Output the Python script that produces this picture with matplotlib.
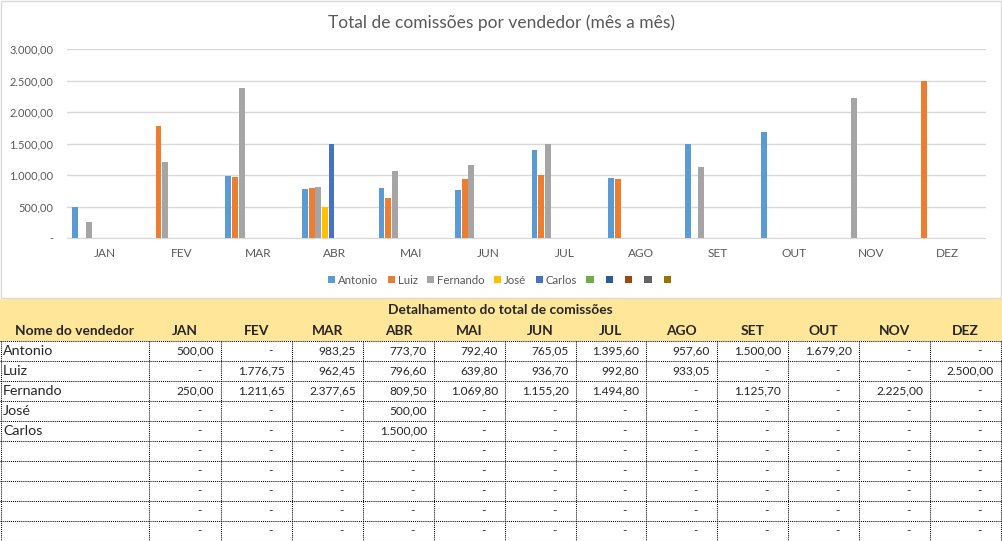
import numpy as np
import matplotlib.pyplot as plt
from matplotlib.patches import Rectangle

plt.rcParams['font.family'] = ['Lato', 'DejaVu Sans']

meses = ['JAN', 'FEV', 'MAR', 'ABR', 'MAI', 'JUN', 'JUL', 'AGO', 'SET', 'OUT', 'NOV', 'DEZ']
vendedores = ['Antonio', 'Luiz', 'Fernando', 'José', 'Carlos', '', '', '', '', '']

antonio = [500.00, 0, 983.25, 773.70, 792.40, 765.05, 1395.60, 957.60, 1500.00, 1679.20, 0, 0]
luiz = [0, 1776.75, 962.45, 796.60, 639.80, 936.70, 992.80, 933.05, 0, 0, 0, 2500.00]
fernando = [250.00, 1211.65, 2377.65, 809.50, 1069.80, 1155.20, 1494.80, 0, 1125.70, 0, 2225.00, 0]
jose = [0, 0, 0, 500.00, 0, 0, 0, 0, 0, 0, 0, 0]
carlos = [0, 0, 0, 1500.00, 0, 0, 0, 0, 0, 0, 0, 0]
vazio = [0] * 12
series = [antonio, luiz, fernando, jose, carlos, vazio, vazio, vazio, vazio, vazio]

cores = ['#5B9BD5', '#ED7D31', '#A5A5A5', '#FFC000', '#4472C4',
         '#70AD47', '#255E91', '#9E480E', '#636363', '#997300']
cinza = '#595959'


def fmt(v):
    # formato brasileiro 1.234,56
    s = f'{v:,.2f}'
    return s.replace(',', 'X').replace('.', ',').replace('X', '.')


W, H = 1002, 541
fig = plt.figure(figsize=(W / 100, H / 100), dpi=100)

# camada de fundo em pixels (borda do grafico + tabela)
tab = fig.add_axes([0, 0, 1, 1])
tab.set_xlim(0, W)
tab.set_ylim(H, 0)
tab.axis('off')

tab.add_patch(Rectangle((0.5, 0.5), 1000.5, 297.5, fill=False, ec='#D9D9D9', lw=1))

# ---- grafico ----
x0, x1, ytop, ybot = 67, 985.5, 49, 238
ax = fig.add_axes([x0 / W, 1 - ybot / H, (x1 - x0) / W, (ybot - ytop) / H])
ax.set_facecolor('none')

n = len(series)
passo = 1 / (n + 1.5)
x = np.arange(len(meses))
handles = []
for i, (vals, cor) in enumerate(zip(series, cores)):
    pos = x - 0.5 + (0.75 + i + 0.5) * passo
    b = ax.bar(pos, vals, width=passo * 0.88, color=cor, zorder=3)
    handles.append(b)

ax.set_xlim(-0.5, len(meses) - 0.5)
ax.set_ylim(0, 3000)
ax.set_yticks(np.arange(0, 3001, 500))
ax.set_yticklabels(['-' if v == 0 else fmt(v) for v in np.arange(0, 3001, 500)])
ax.set_xticks(x)
ax.set_xticklabels(meses)
ax.grid(axis='y', color='#D9D9D9', lw=1, zorder=0)
for s in ['left', 'right', 'top']:
    ax.spines[s].set_visible(False)
ax.spines['bottom'].set_color('#D9D9D9')
ax.tick_params(length=0, colors=cinza)
ax.tick_params(axis='x', pad=7, labelsize=8.6)
ax.tick_params(axis='y', pad=10, labelsize=7.9)

fig.text(501 / W, 1 - 23 / H, 'Total de comissões por vendedor (mês a mês)',
         ha='center', va='center', fontsize=12.5, color=cinza)

fig.legend(handles, vendedores, loc='center', bbox_to_anchor=(501 / W, 1 - 280 / H),
           ncol=n, frameon=False, fontsize=8.2, handlelength=0.65, handleheight=0.65,
           handletextpad=0.25, columnspacing=0.8, labelcolor=cinza)

# ---- tabela ----
col_x = [0.5, 149.5, 221, 292, 363, 434, 505, 576, 646, 717, 788, 859, 930, 1001]
texto = '#262626'
fs = 10.3      # nomes
fs_num = 8.6   # numeros
fs_cab = 9.9   # cabecalho

tab.add_patch(Rectangle((0, 299), W, 41.5, color='#FFE699', lw=0))
tab.text(500, 310, 'Detalhamento do total de comissões', ha='center', va='center',
         fontsize=fs_cab, fontweight='bold', color=texto)
tab.text((col_x[0] + col_x[1]) / 2, 331, 'Nome do vendedor', ha='center', va='center',
         fontsize=fs_cab, fontweight='bold', color=texto)
for j, m in enumerate(meses):
    tab.text((col_x[j + 1] + col_x[j + 2]) / 2, 331, m, ha='center', va='center',
             fontsize=fs_cab, fontweight='bold', color=texto)

linha0, alt = 340.5, 20
for r, nome in enumerate(vendedores):
    yc = linha0 + alt * r + alt / 2 + 0.5
    tab.text(3, yc, nome, ha='left', va='center', fontsize=fs, color=texto)
    for j in range(len(meses)):
        v = series[r][j]
        dir_ = col_x[j + 2]
        if v:
            tab.text(dir_ - 7, yc, fmt(v), ha='right', va='center', fontsize=fs_num, color=texto)
        else:
            tab.text(dir_ - 22, yc, '-', ha='center', va='center', fontsize=fs_num, color=texto)

pont = (0, (1, 1))
for r in range(len(vendedores) + 1):
    yl = linha0 + alt * r
    tab.plot([0, W], [yl, yl], color='black', lw=0.75, ls=pont)
for xc in col_x:
    tab.plot([xc, xc], [linha0, H], color='black', lw=0.75, ls=pont)

fig.savefig('out.png', dpi=100)
